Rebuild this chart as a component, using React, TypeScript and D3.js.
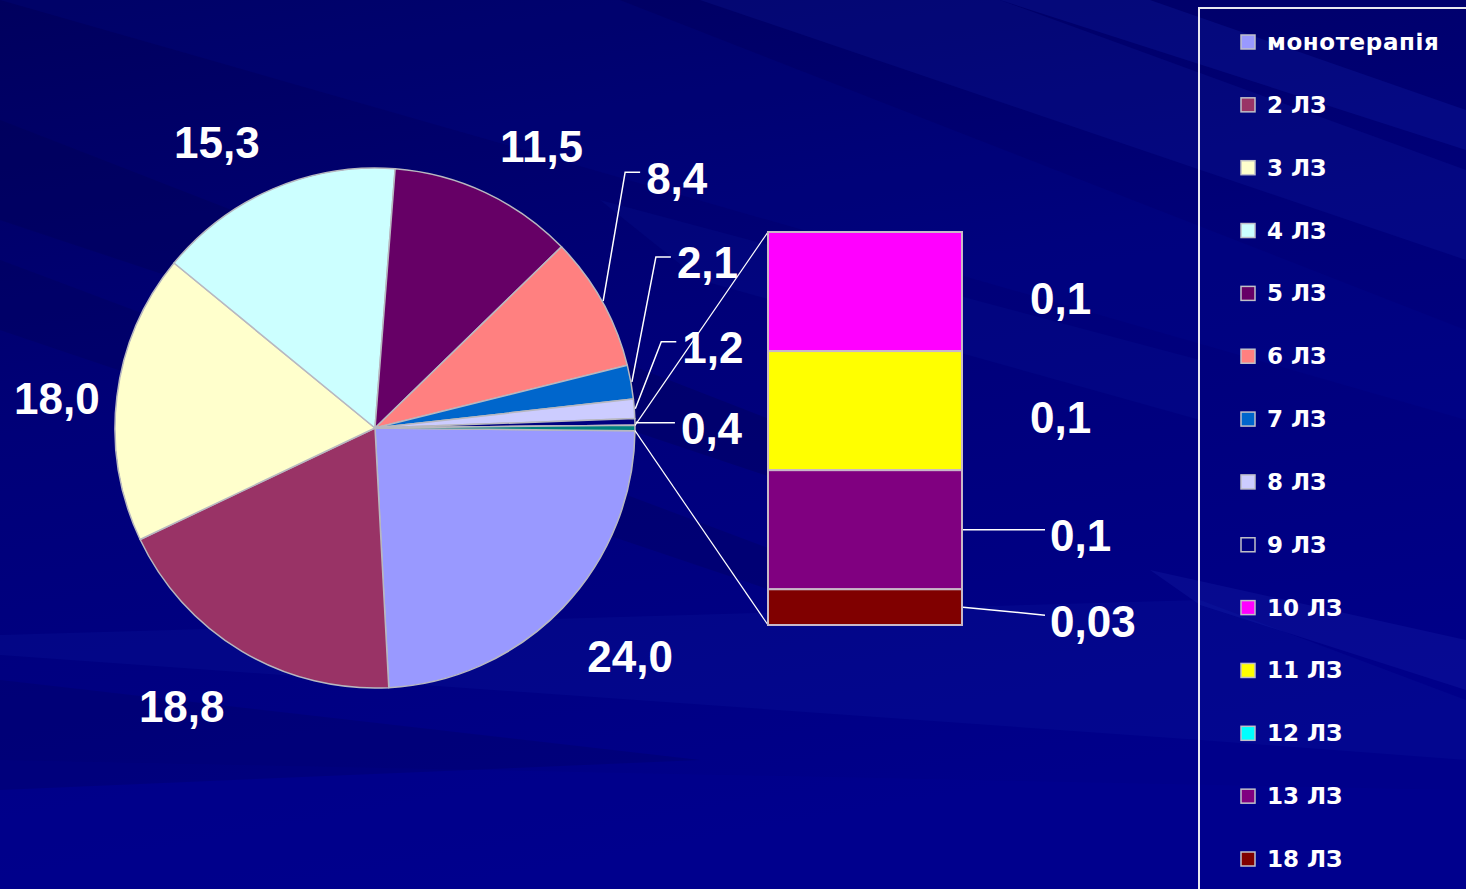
import React from "react";
import * as d3 from "d3";

// ---------- data ----------
const legendCategories = [
  "монотерапія", "2 ЛЗ", "3 ЛЗ", "4 ЛЗ", "5 ЛЗ", "6 ЛЗ", "7 ЛЗ",
  "8 ЛЗ", "9 ЛЗ", "10 ЛЗ", "11 ЛЗ", "12 ЛЗ", "13 ЛЗ", "18 ЛЗ",
];
const legendColors = [
  "#9999FF", "#993366", "#FFFFCC", "#CCFFFF", "#660066", "#FF8080", "#0066CC",
  "#CCCCFF", "#000080", "#FF00FF", "#FFFF00", "#00FFFF", "#800080", "#800000",
];
const pieCategories = ["монотерапія", "2 ЛЗ", "3 ЛЗ", "4 ЛЗ", "5 ЛЗ", "6 ЛЗ", "7 ЛЗ", "8 ЛЗ", "9 ЛЗ", "12 ЛЗ"];
const pieValues = [24.0, 18.8, 18.0, 15.3, 11.5, 8.4, 2.1, 1.2, 0.4, 0.01];
const barCategories = ["10 ЛЗ", "11 ЛЗ", "13 ЛЗ", "18 ЛЗ"];
const barValues = [0.1, 0.1, 0.1, 0.03];
const otherColor = "#008080";

// ---------- layout / style ----------
const W = 1466, H = 889;
const CX = 375, CY = 428, R = 260;
const BAR_X0 = 768, BAR_X1 = 962, BAR_TOP = 232, BAR_BOTTOM = 625;
const LABEL_FONT = "'Liberation Sans', Arial, sans-serif";
const LEGEND_FONT = "'DejaVu Sans', Verdana, sans-serif";
const LABEL_SIZE = 44;
const CAP_H = 32;
const LABEL_GAP = 34;
const LEADING_BELOW = 9;
// callout leader elbows (offset from slice edge point) and horizontal run
const CALLOUT: Record<string, { dx: number; dy: number; run: number }> = {
  "6 ЛЗ": { dx: 22, dy: -129, run: 15 },
  "7 ЛЗ": { dx: 24, dy: -125, run: 15 },
  "8 ЛЗ": { dx: 26, dy: -67, run: 15 },
  "9 ЛЗ": { dx: 1, dy: 1, run: 38 },
};
const BAR_LABEL: Record<string, { leader: boolean; dx: number; dy: number }> = {
  "10 ЛЗ": { leader: false, dx: 68, dy: 0 },
  "11 ЛЗ": { leader: false, dx: 68, dy: 0 },
  "13 ЛЗ": { leader: true, dx: 83, dy: 0 },
  "18 ЛЗ": { leader: true, dx: 83, dy: 8 },
};

const colorOf = (c: string) => legendColors[legendCategories.indexOf(c)];
const fmt = (v: number) => (v >= 0.1 ? v.toFixed(1) : v.toFixed(2)).replace(".", ",");
const textWidth = (t: string) =>
  t.split("").reduce((s, ch) => s + (ch === "," ? 0.278 : 0.556), 0) * LABEL_SIZE;

export default function App() {
  const otherTotal = d3.sum(barValues);
  const pieData = pieCategories.map((c, i) => ({ cat: c, value: pieValues[i], other: false }));
  pieData.push({ cat: "other", value: otherTotal, other: true });
  const total = d3.sum(pieData, (d) => d.value);
  const otherAngle = (otherTotal / total) * Math.PI * 2;
  const start = Math.PI / 2 + otherAngle / 2;
  const arcs = d3
    .pie<any>()
    .sort(null)
    .value((d) => d.value)
    .startAngle(start)
    .endAngle(start + Math.PI * 2)(pieData);
  const arcGen = d3.arc<any>().innerRadius(0).outerRadius(R);
  const polar = (a: number, r: number): [number, number] => [CX + r * Math.sin(a), CY - r * Math.cos(a)];

  // bar scale
  const y = d3.scaleLinear().domain([0, otherTotal]).range([BAR_BOTTOM, BAR_TOP]);
  let acc = otherTotal;
  const segs = barCategories.map((c, i) => {
    const top = acc;
    acc -= barValues[i];
    return { cat: c, value: barValues[i], y0: y(top), y1: y(acc) };
  });

  const legendY = d3.scalePoint<string>().domain(legendCategories).range([42, 859]);

  const otherArc = arcs[arcs.length - 1];
  const oTop = polar(otherArc.startAngle, R);
  const oBot = polar(otherArc.endAngle, R);

  return (
    <svg
      width={W}
      height={H}
      style={{ position: "fixed", left: 0, top: 0, display: "block" }}
      xmlns="http://www.w3.org/2000/svg"
    >
      <defs>
        <linearGradient id="bg" x1="0" y1="0" x2="0.3" y2="1">
          <stop offset="0" stopColor="#00005E" />
          <stop offset="0.45" stopColor="#000078" />
          <stop offset="1" stopColor="#00008A" />
        </linearGradient>
      </defs>
      <rect x={0} y={0} width={W} height={H} fill="url(#bg)" />
      {/* background streaks */}
      <g>
        <path d="M0,0 L620,0 L1466,330 L1466,420 Z" fill="#0010A0" opacity={0.15} />
        <path d="M0,120 L0,220 L900,520 L900,470 Z" fill="#000050" opacity={0.3} />
        <path d="M0,260 L0,330 L800,600 L800,560 Z" fill="#000050" opacity={0.25} />
        <path d="M700,0 L1000,0 L1466,170 L1466,260 Z" fill="#1428B4" opacity={0.18} />
        <path d="M1000,0 L1150,0 L1466,110 L1466,150 Z" fill="#1E32C8" opacity={0.18} />
        <path d="M0,635 L0,655 L1200,740 L1466,760 L1466,700 L1200,600 Z" fill="#1428B0" opacity={0.14} />
        <path d="M1150,570 L1466,640 L1466,690 L1200,605 Z" fill="#2A3CC8" opacity={0.16} />
        <path d="M0,760 L1466,790 L1466,889 L0,889 Z" fill="#000090" opacity={0.45} />
        <path d="M0,680 L700,760 L0,790 Z" fill="#000060" opacity={0.3} />
        <path d="M600,200 L1200,360 L1200,420 L700,280 Z" fill="#1020A8" opacity={0.15} />
      </g>

      {/* pie */}
      <g>
        {arcs.map((a, i) => (
          <path
            key={i}
            d={arcGen(a) as string}
            transform={`translate(${CX},${CY})`}
            fill={a.data.other ? otherColor : colorOf(a.data.cat)}
            stroke="#B8B8C0"
            strokeWidth={1.5}
            strokeLinejoin="round"
          />
        ))}
      </g>

      {/* connector lines pie -> bar */}
      <line x1={oTop[0]} y1={oTop[1]} x2={BAR_X0} y2={BAR_TOP} stroke="#FFFFFF" strokeWidth={1.2} />
      <line x1={oBot[0]} y1={oBot[1]} x2={BAR_X0} y2={BAR_BOTTOM} stroke="#FFFFFF" strokeWidth={1.2} />

      {/* bar of pie */}
      <g>
        {segs.map((s, i) => (
          <rect
            key={i}
            x={BAR_X0}
            y={s.y0}
            width={BAR_X1 - BAR_X0}
            height={s.y1 - s.y0}
            fill={colorOf(s.cat)}
            stroke="#C8B8C8"
            strokeWidth={2}
          />
        ))}
      </g>

      {/* pie labels */}
      <g fontFamily={LABEL_FONT} fontWeight="bold" fontSize={LABEL_SIZE} fill="#FFFFFF">
        {arcs.map((a, i) => {
          if (a.data.other || a.data.cat === "12 ЛЗ") return null;
          const mid = (a.startAngle + a.endAngle) / 2;
          const text = fmt(a.data.value);
          const call = CALLOUT[a.data.cat];
          if (call) {
            const p = polar(mid, R + 1);
            const e: [number, number] = [p[0] + call.dx, p[1] + call.dy];
            const end = e[0] + call.run;
            return (
              <g key={i}>
                <polyline
                  points={`${p[0]},${p[1]} ${e[0]},${e[1]} ${end},${e[1]}`}
                  fill="none"
                  stroke="#FFFFFF"
                  strokeWidth={1.5}
                />
                <text x={end + 6} y={e[1] + 6} dominantBaseline="central">
                  {text}
                </text>
              </g>
            );
          }
          // nearest corner of the label box sits on the slice's mid-angle ray
          const ux = Math.sin(mid), uy = -Math.cos(mid);
          const w = textWidth(text);
          const [px, py] = polar(mid, R + LABEL_GAP);
          const cxl = Math.abs(ux) > 0.3 ? px + Math.sign(ux) * w / 2 : px;
          const cyl = Math.abs(uy) > 0.3 ? py + Math.sign(uy) * CAP_H / 2 + (uy > 0 ? LEADING_BELOW : 0) : py + 6;
          const left = Math.max(cxl - w / 2, 14);
          return (
            <text key={i} x={left} y={cyl + CAP_H / 2}>
              {text}
            </text>
          );
        })}
      </g>

      {/* bar labels */}
      <g fontFamily={LABEL_FONT} fontWeight="bold" fontSize={LABEL_SIZE} fill="#FFFFFF">
        {segs.map((s, i) => {
          const cfg = BAR_LABEL[s.cat];
          const cy = (s.y0 + s.y1) / 2;
          const text = fmt(s.value);
          if (cfg.leader) {
            const ex = BAR_X1 + cfg.dx;
            const ey = cy + cfg.dy;
            return (
              <g key={i}>
                <line x1={BAR_X1 + 1} y1={cy} x2={ex} y2={ey} stroke="#FFFFFF" strokeWidth={1.5} />
                <text x={ex + 5} y={ey + 6} dominantBaseline="central">
                  {text}
                </text>
              </g>
            );
          }
          return (
            <text key={i} x={BAR_X1 + cfg.dx} y={cy + 7} dominantBaseline="central">
              {text}
            </text>
          );
        })}
      </g>

      {/* legend */}
      <rect x={1199} y={8} width={400} height={1000} fill="none" stroke="#E8E8F0" strokeWidth={2} />
      <g fontFamily={LEGEND_FONT} fontWeight="bold" fontSize={23} fill="#FFFFFF">
        {legendCategories.map((c, i) => {
          const cy = legendY(c) as number;
          return (
            <g key={c}>
              <rect
                x={1241}
                y={cy - 7}
                width={14}
                height={14}
                fill={legendColors[i]}
                stroke="#C0C0C8"
                strokeWidth={1.5}
              />
              <text x={1267} y={cy} dominantBaseline="central" letterSpacing={c.length > 6 ? 0.6 : 0}>
                {c}
              </text>
            </g>
          );
        })}
      </g>
    </svg>
  );
}
